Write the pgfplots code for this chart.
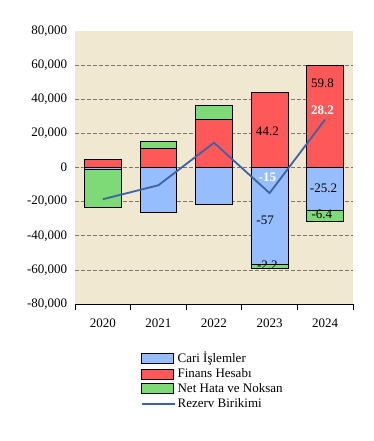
\documentclass[border=0pt]{standalone}
\usepackage{fontspec}
\setmainfont{Liberation Serif}
\usepackage{pgfplots}
\pgfplotsset{compat=1.18}
\definecolor{bgc}{RGB}{240,232,208}
\definecolor{cblue}{RGB}{150,190,255}
\definecolor{cred}{RGB}{255,88,88}
\definecolor{cgreen}{RGB}{125,218,118}
\definecolor{cline}{RGB}{62,98,168}
\definecolor{cgrid}{RGB}{125,118,105}
\newcommand{\fs}{\fontsize{13bp}{15.6bp}\selectfont}
\begin{document}
\begin{tikzpicture}
\path[use as bounding box] (-75bp,-137bp) rectangle (299bp,304bp);
\pgfplotsset{
  common/.style={
    at={(0,0)}, anchor=south west,
    scale only axis, width=278bp, height=273bp,
    xmin=-0.5, xmax=4.5, ymin=-80000, ymax=80000,
  }
}
\begin{axis}[common,
  ybar stacked, bar width=0.66,
  axis background/.style={fill=bgc},
  axis x line*=bottom, axis y line*=left,
  y axis line style={draw=none},
  x axis line style={black, line width=0.8bp},
  ytick={-80000,-60000,...,60000},
  extra y ticks={80000}, extra y tick style={grid=none},
  ymajorgrids, grid style={cgrid, dash pattern=on 4bp off 2bp, line width=0.6bp},
  ytick style={draw=none},
  scaled y ticks=false,
  yticklabel style={/pgf/number format/.cd, 1000 sep={,}, assume math mode=true},
  xtick={0,1,2,3,4}, xticklabels={2020,2021,2022,2023,2024},
  major x tick style={draw=none},
  minor xtick={-0.5,0.5,1.5,2.5,3.5,4.5},
  minor x tick style={black, line width=0.8bp},
  minor tick length=6bp, tick align=outside,
  ticklabel style={font=\fs},
  xticklabel style={yshift=-7bp},
  legend style={at={(0.236,-0.168)}, anchor=north west, draw=none, fill=none,
    font=\fs, row sep=0.4bp, inner sep=0pt},
  legend cell align=left,
]
\addplot[forget plot, fill=cblue, draw=black, line width=0.8bp] coordinates {(0,-1200) (1,-26100) (2,-21600) (3,-57000) (4,-25200)};
\addplot[forget plot, fill=cgreen, draw=black, line width=0.8bp] coordinates {(0,-22300) (1,0) (2,0) (3,-2200) (4,-6400)};
\addplot[forget plot, fill=cred, draw=black, line width=0.8bp] coordinates {(0,4700) (1,11200) (2,28200) (3,44200) (4,59800)};
\addplot[forget plot, fill=cgreen, draw=black, line width=0.8bp] coordinates {(0,0) (1,4100) (2,8100) (3,0) (4,0)};
\addlegendimage{legend image code/.code={\draw[fill=cblue, draw=black, line width=0.8bp] (0bp,-5bp) rectangle (32bp,5bp);}}
\addlegendentry{Cari İşlemler}
\addlegendimage{legend image code/.code={\draw[fill=cred, draw=black, line width=0.8bp] (0bp,-5bp) rectangle (32bp,5bp);}}
\addlegendentry{Finans Hesabı}
\addlegendimage{legend image code/.code={\draw[fill=cgreen, draw=black, line width=0.8bp] (0bp,-5bp) rectangle (32bp,5bp);}}
\addlegendentry{Net Hata ve Noksan}
\addlegendimage{legend image code/.code={\draw[cline, line width=1.8bp] (0bp,0bp) -- (33bp,0bp);}}
\addlegendentry{Rezerv Birikimi}
\end{axis}
\begin{axis}[common, hide axis, clip=false]
\addplot[cline, line width=1.8bp, mark=none] coordinates {(0,-18600) (1,-10400) (2,14500) (3,-15000) (4,28200)};
\node[font=\fs] at (axis cs:2.96,21000) {44.2};
\node[font=\fs] at (axis cs:2.92,-31000) {-57};
\node[font=\fs] at (axis cs:2.96,-57300) {-2.2};
\node[font=\fs\bfseries, white] at (axis cs:2.96,-5500) {-15};
\node[font=\fs] at (axis cs:3.95,49400) {59.8};
\node[font=\fs\bfseries, white] at (axis cs:3.95,33700) {28.2};
\node[font=\fs] at (axis cs:3.97,-12000) {-25.2};
\node[font=\fs] at (axis cs:3.94,-27200) {-6.4};
\end{axis}
\end{tikzpicture}
\end{document}
